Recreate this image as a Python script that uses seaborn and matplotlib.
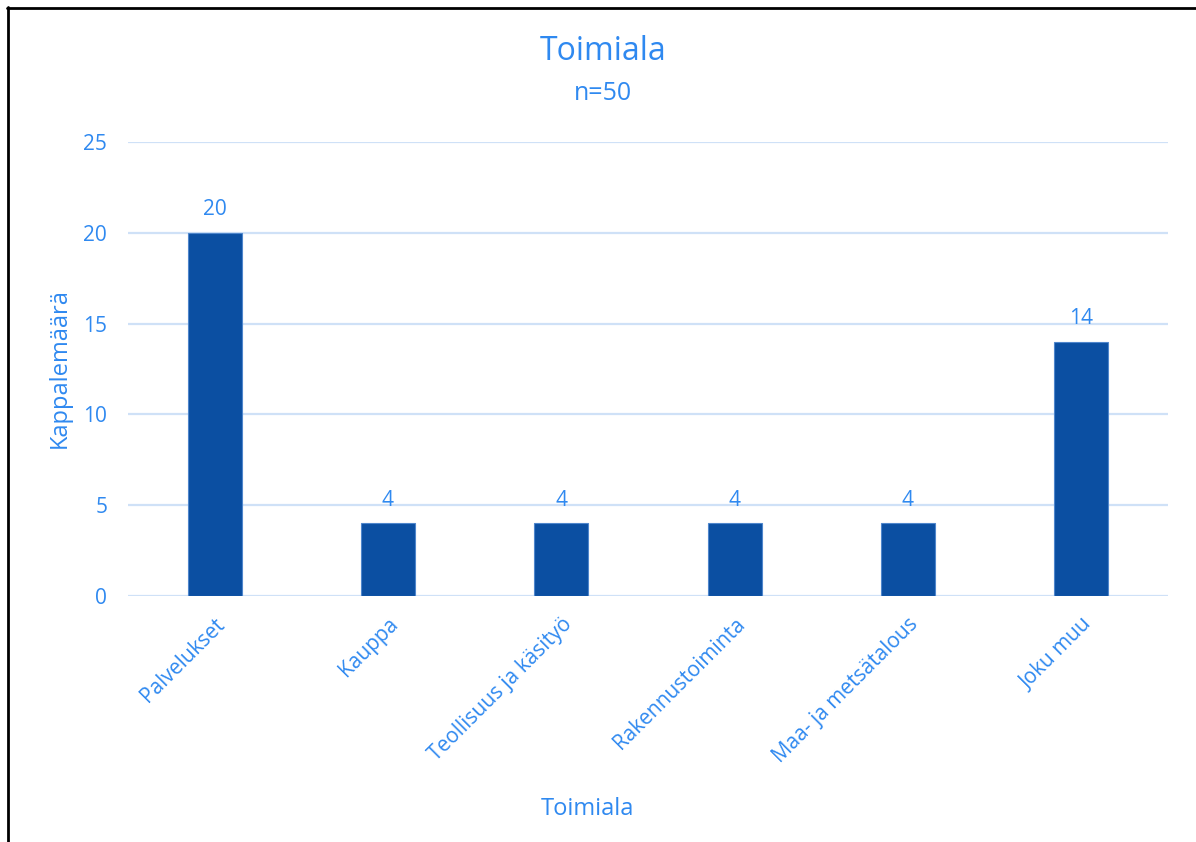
import matplotlib
matplotlib.use("Agg")
import matplotlib.pyplot as plt
import seaborn as sns
import pandas as pd

# data
toimialat = ["Palvelukset", "Kauppa", "Teollisuus ja käsityö",
             "Rakennustoiminta", "Maa- ja metsätalous", "Joku muu"]
kappalemaara = [20, 4, 4, 4, 4, 14]
y_ticks = [0, 5, 10, 15, 20, 25]

text_col = "#2F89F0"
bar_col = "#0B4FA2"
grid_col = "#CFE1F7"

sns.set_style("white")
plt.rcParams["font.family"] = ["Open Sans", "DejaVu Sans"]

df = pd.DataFrame({"Toimiala": toimialat, "Kappalemäärä": kappalemaara})

fig = plt.figure(figsize=(11.96, 8.42), dpi=100)
ax = fig.add_axes([128 / 1196, 1 - 596 / 842, 1040 / 1196, (596 - 142) / 842])

sns.barplot(data=df, x="Toimiala", y="Kappalemäärä", color=bar_col,
            saturation=1, width=0.31, edgecolor="#4F86CC", linewidth=0.8,
            ax=ax, zorder=3)

ax.set_xlim(-0.5, len(toimialat) - 0.5)
ax.set_ylim(0, 25)
ax.set_yticks(y_ticks)
for t in y_ticks:
    ax.axhline(t, color=grid_col, lw=1.6, zorder=1)

for i, v in enumerate(kappalemaara):
    ax.annotate(str(v), (i, v), xytext=(0, 9), textcoords="offset points",
                ha="center", va="bottom", color=text_col, fontsize=15)

ax.tick_params(axis="both", length=0, colors=text_col, labelsize=15)
ax.tick_params(axis="y", pad=15)
ax.tick_params(axis="x", pad=13)
plt.setp(ax.get_xticklabels(), rotation=45, ha="right", rotation_mode="anchor")
for s in ax.spines.values():
    s.set_visible(False)

ax.set_xlabel("Toimiala", color=text_col, fontsize=17)
ax.set_ylabel("Kappalemäärä", color=text_col, fontsize=17)
ax.xaxis.set_label_coords(0.442, -0.442)
ax.yaxis.set_label_coords(-0.054, 0.502)

fig.text(603 / 1196, 1 - 52 / 842, "Toimiala", ha="center", va="center",
         color=text_col, fontsize=23)
fig.text(603 / 1196, 1 - 93 / 842, "n=50", ha="center", va="center",
         color=text_col, fontsize=18)

# outer frame (left and top edges visible)
fig.add_artist(plt.Line2D([7.5 / 1196, 7.5 / 1196], [0, 1 - 7 / 842],
                          color="black", lw=2, transform=fig.transFigure))
fig.add_artist(plt.Line2D([7 / 1196, 1], [1 - 7.5 / 842, 1 - 7.5 / 842],
                          color="black", lw=2, transform=fig.transFigure))

fig.savefig("out.png", dpi=100)
